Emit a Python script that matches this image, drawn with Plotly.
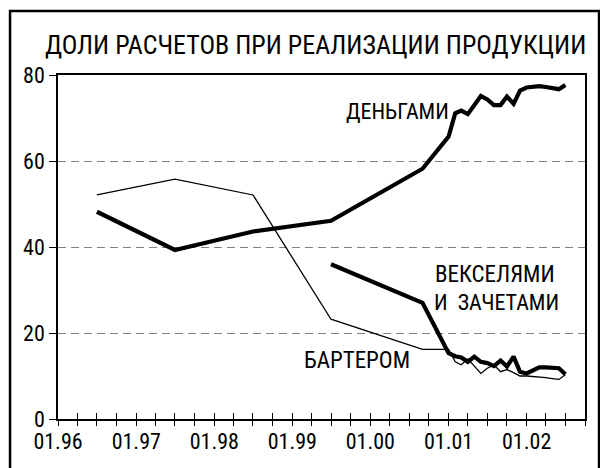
import plotly.graph_objects as go

FONT = "Roboto Condensed, Liberation Sans, Arial, sans-serif"
INK = "#000000"
GRID = "#808080"

# ДЕНЬГАМИ (деньгами)
money_dates = [
    "1996-07-01", "1997-07-01", "1998-07-01", "1999-07-01", "2000-09-01",
    "2001-01-01", "2001-02-01", "2001-03-01", "2001-04-01", "2001-05-01",
    "2001-06-01", "2001-07-01", "2001-08-01", "2001-09-01", "2001-10-01",
    "2001-11-01", "2001-12-01", "2002-01-01", "2002-02-01", "2002-03-01",
    "2002-04-01", "2002-05-01", "2002-06-01", "2002-07-01",
]
money = [
    48.2, 39.3, 43.6, 46.1, 58.2,
    65.7, 71.1, 71.7, 70.9, 73.0,
    75.1, 74.3, 73.0, 73.0, 75.0,
    73.3, 76.4, 77.1, 77.3, 77.4,
    77.2, 77.0, 76.7, 77.7,
]

# ВЕКСЕЛЯМИ И ЗАЧЕТАМИ
bills_dates = [
    "1999-07-01", "2000-09-01",
    "2001-01-01", "2001-02-01", "2001-03-01", "2001-04-01", "2001-05-01",
    "2001-06-01", "2001-07-01", "2001-08-01", "2001-09-01", "2001-10-01",
    "2001-11-01", "2001-12-01", "2002-01-01", "2002-02-01", "2002-03-01",
    "2002-04-01", "2002-05-01", "2002-06-01", "2002-07-01",
]
bills = [
    36.0, 27.0,
    15.3, 14.6, 14.3, 13.3, 14.5,
    13.3, 13.0, 12.3, 13.6, 12.2,
    14.5, 11.0, 10.6, 11.3, 12.0,
    12.0, 12.0, 11.8, 10.4,
]

# БАРТЕРОМ
barter_dates = [
    "1996-07-01", "1997-07-01", "1998-07-01", "1999-07-01", "2000-09-01",
    "2001-01-01", "2001-02-01", "2001-03-01", "2001-04-01", "2001-05-01",
    "2001-06-01", "2001-07-01", "2001-08-01", "2001-09-01", "2001-10-01",
    "2001-11-01", "2001-12-01", "2002-01-01", "2002-02-01", "2002-03-01",
    "2002-04-01", "2002-05-01", "2002-06-01", "2002-07-01",
]
barter = [
    52.1, 55.8, 52.1, 23.2, 16.2,
    16.2, 13.3, 12.6, 14.0, 12.3,
    10.6, 11.8, 12.6, 11.0, 11.5,
    10.8, 10.0, 10.0, 9.9, 9.7,
    9.6, 9.4, 9.2, 10.3,
]

# quarterly tick marks, labelled once a year
tick_dates = [
    "1996-01-01", "1996-04-01", "1996-07-01", "1996-10-01",
    "1997-01-01", "1997-04-01", "1997-07-01", "1997-10-01",
    "1998-01-01", "1998-04-01", "1998-07-01", "1998-10-01",
    "1999-01-01", "1999-04-01", "1999-07-01", "1999-10-01",
    "2000-01-01", "2000-04-01", "2000-07-01", "2000-10-01",
    "2001-01-01", "2001-04-01", "2001-07-01", "2001-10-01",
    "2002-01-01", "2002-04-01", "2002-07-01", "2002-10-01",
]
tick_labels = [
    "01.96", "", "", "",
    "01.97", "", "", "",
    "01.98", "", "", "",
    "01.99", "", "", "",
    "01.00", "", "", "",
    "01.01", "", "", "",
    "01.02", "", "", "",
]
y_ticks = [0, 20, 40, 60, 80]

fig = go.Figure()

fig.add_trace(go.Scatter(
    x=barter_dates, y=barter, mode="lines", name="БАРТЕРОМ",
    line=dict(color=INK, width=1.3),
))
fig.add_trace(go.Scatter(
    x=money_dates, y=money, mode="lines", name="ДЕНЬГАМИ",
    line=dict(color=INK, width=4.2),
))
fig.add_trace(go.Scatter(
    x=bills_dates, y=bills, mode="lines", name="ВЕКСЕЛЯМИ И ЗАЧЕТАМИ",
    line=dict(color=INK, width=4.2),
))
# empty trace on the overlay axis so the outward half of the ticks is drawn
fig.add_trace(go.Scatter(
    x=["1996-01-01", "2002-10-01"], y=[None, None], xaxis="x2",
    mode="lines", showlegend=False, hoverinfo="skip",
))

x_range = ["1996-01-01", "2002-10-01"]

# the page body adds 8px on the left/top, so the figure is 8px smaller
fig.update_layout(
    width=600,
    height=460,
    margin=dict(l=50, r=23, t=67, b=49),
    paper_bgcolor="white",
    plot_bgcolor="white",
    showlegend=False,
    font=dict(family=FONT, size=22, color=INK),
    xaxis=dict(
        type="date",
        range=x_range,
        tickmode="array",
        tickvals=tick_dates,
        ticktext=tick_labels,
        ticks="inside",
        ticklen=6,
        tickwidth=1.3,
        tickcolor=INK,
        ticklabelstandoff=2,
        showline=True,
        linecolor=INK,
        linewidth=2,
        mirror=True,
        showgrid=False,
        zeroline=False,
    ),
    xaxis2=dict(
        type="date",
        range=x_range,
        overlaying="x",
        side="bottom",
        anchor="y",
        tickmode="array",
        tickvals=tick_dates,
        ticktext=["" for _ in tick_dates],
        ticks="outside",
        ticklen=6,
        tickwidth=1.3,
        tickcolor=INK,
        showline=False,
        showgrid=False,
        zeroline=False,
    ),
    yaxis=dict(
        range=[0, 80],
        tickmode="array",
        tickvals=y_ticks,
        ticks="outside",
        ticklen=7,
        tickwidth=1.3,
        tickcolor=INK,
        showline=True,
        linecolor=INK,
        linewidth=1.5,
        mirror=True,
        showgrid=True,
        gridcolor=GRID,
        gridwidth=1,
        griddash="8px,5px",
        zeroline=False,
    ),
    shapes=[
        dict(
            type="rect", xref="paper", yref="paper",
            x0=-0.091, x1=1.0266, y0=-0.2, y1=1.186,
            line=dict(color=INK, width=2.5),
            fillcolor="rgba(0,0,0,0)", layer="above",
        ),
    ],
    annotations=[
        dict(
            text="ДОЛИ РАСЧЕТОВ ПРИ РЕАЛИЗАЦИИ ПРОДУКЦИИ",
            xref="paper", yref="paper", x=0.488, y=1.087,
            xanchor="center", yanchor="middle", showarrow=False,
            font=dict(size=26),
        ),
        dict(
            text="ДЕНЬГАМИ", xref="x", yref="y",
            x="2001-01-10", y=71.6, xanchor="right", yanchor="middle",
            showarrow=False, font=dict(size=22),
        ),
        dict(
            text="ВЕКСЕЛЯМИ", xref="x", yref="y",
            x="2000-10-20", y=33.5, xanchor="left", yanchor="middle",
            showarrow=False, font=dict(size=23),
        ),
        dict(
            text="И  ЗАЧЕТАМИ", xref="x", yref="y",
            x="2000-10-16", y=27.0, xanchor="left", yanchor="middle",
            showarrow=False, font=dict(size=22),
        ),
        dict(
            text="БАРТЕРОМ", xref="x", yref="y",
            x="1999-02-16", y=13.7, xanchor="left", yanchor="middle",
            showarrow=False, font=dict(size=23),
        ),
    ],
)

fig.write_html("out.html")
